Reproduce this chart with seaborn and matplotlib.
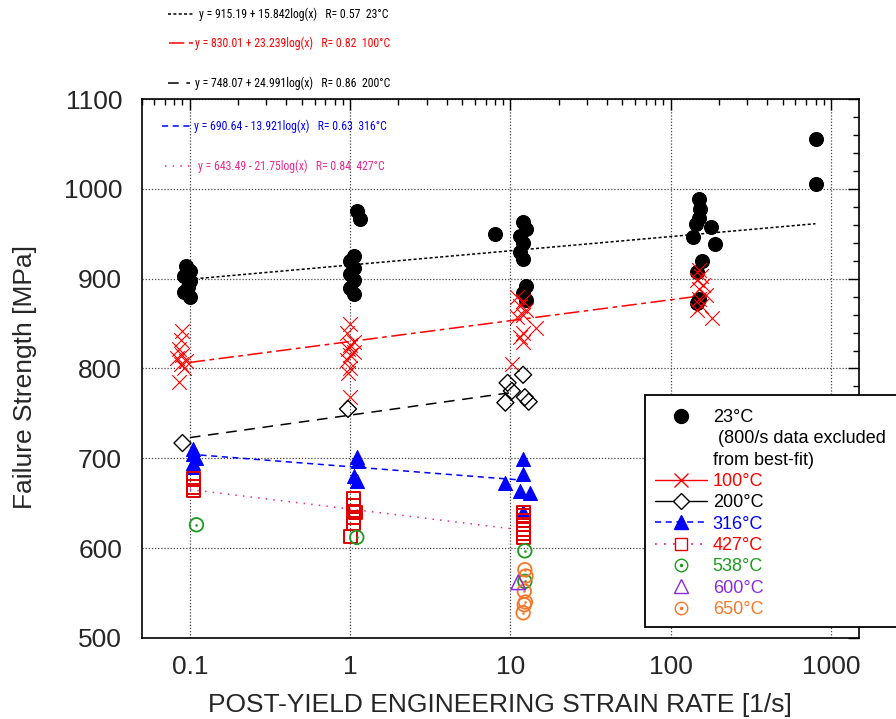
import numpy as np
import pandas as pd
import matplotlib
matplotlib.use("Agg")
import matplotlib.pyplot as plt
import seaborn as sns
from matplotlib.lines import Line2D
from matplotlib.patches import Rectangle
from matplotlib.legend_handler import HandlerTuple

# --- datos ---
rate_23 = [0.095, 0.1, 0.092, 0.1, 0.097, 0.092, 0.1,
           1.1, 1.15, 1.05, 1.0, 1.05, 1.0, 1.05, 1.0, 1.05,
           8.0, 12.0, 12.5, 11.5, 12.0, 11.5, 12.0, 12.5, 12.0, 12.5,
           150, 152, 150, 143, 178, 137, 190, 156, 145, 150, 145,
           800, 800]
str_23 = [914, 908, 903, 897, 891, 885, 880,
          975, 966, 925, 920, 912, 905, 898, 890, 883,
          950, 963, 955, 948, 940, 930, 922, 892, 884, 876,
          989, 978, 968, 961, 957, 946, 939, 920, 907, 877, 873,
          1055, 1005]

rate_100 = [0.09, 0.088, 0.085, 0.09, 0.083, 0.095, 0.088, 0.092, 0.085,
            1.0, 0.95, 1.05, 1.0, 0.97, 1.05, 1.0, 0.95, 1.0, 0.97, 1.0,
            11.0, 12.0, 11.5, 12.5, 12.0, 11.0, 14.5, 12.0, 11.5, 12.0, 10.3,
            150, 155, 145, 160, 150, 165, 150, 155, 145, 180]
str_100 = [842, 832, 822, 815, 812, 808, 805, 800, 785,
           850, 840, 830, 826, 822, 818, 815, 810, 800, 795, 768,
           880, 875, 870, 865, 860, 857, 845, 840, 835, 830, 805,
           910, 903, 898, 893, 888, 882, 877, 870, 865, 856]

rate_200 = [0.09, 0.97, 12.0, 9.6, 10.2, 9.3, 12.3, 13.0]
str_200 = [717, 755, 793, 784, 775, 762, 768, 763]

rate_316 = [0.105, 0.105, 0.11, 0.105, 0.105,
            1.1, 1.12, 1.05, 1.1,
            12.0, 12.0, 9.2, 11.5, 13.2, 12.0]
str_316 = [710, 705, 700, 695, 690,
           702, 697, 680, 675,
           699, 683, 673, 664, 661, 640]

rate_427 = [0.105, 0.105, 0.105,
            1.05, 1.05, 1.08, 1.05, 1.05, 1.0,
            12.0, 12.0, 12.0, 12.0, 12.0, 12.0, 12.0]
str_427 = [677, 668, 664,
           655, 647, 640, 634, 627, 613,
           640, 636, 631, 626, 621, 616, 612]

rate_538 = [0.11, 1.1, 12.3, 12.3]
str_538 = [626, 612, 597, 563]

rate_600 = [11.2]
str_600 = [562]

rate_650 = [12.3, 12.5, 12.2, 12.4, 12.2, 12.0]
str_650 = [576, 569, 552, 540, 537, 528]

# ajustes: y = a + b*log10(x), rango de x de cada recta
fit_names = ["23", "100", "200", "316", "427"]
fit_a = [915.19, 830.01, 748.07, 690.64, 643.49]
fit_b = [15.842, 23.239, 24.991, -13.921, -21.75]
fit_xmin = [0.1, 0.1, 0.1, 0.1, 0.1]
fit_xmax = [800, 150, 10, 12, 10]

x_ticks = [0.1, 1, 10, 100, 1000]
x_ticklabels = ["0.1", "1", "10", "100", "1000"]
y_ticks = [500, 600, 700, 800, 900, 1000, 1100]

RED = "#FF0000"
SQRED = "#E00000"
BLUE = "#0000FF"
PINK = "#F0288C"
GREEN = "#1E9A1E"
PURPLE = "#8A2BE2"
ORANGE = "#F7772A"

fit_colors = ["black", RED, "black", BLUE, PINK]
fit_styles = [(0, (2, 1.5)), (0, (10, 3, 3, 3)), (0, (7, 5)), (0, (4, 3)), (0, (1, 4))]

sns.set_style("white")
plt.rcParams["font.family"] = ["Liberation Sans", "DejaVu Sans"]

fig = plt.figure(figsize=(8.96, 7.19), dpi=100)
ax = fig.add_axes([0.158, 0.1127, 0.801, 0.7496])

# --- rectas de ajuste ---
for i in range(len(fit_names)):
    xs = np.array([fit_xmin[i], fit_xmax[i]])
    ys = fit_a[i] + fit_b[i] * np.log10(xs)
    sns.lineplot(x=xs, y=ys, ax=ax, color=fit_colors[i], linestyle=fit_styles[i],
                 linewidth=1.1, zorder=2)

# --- puntos ---
def pts(rate, strength, **kw):
    df = pd.DataFrame({"rate": rate, "strength": strength})
    sns.scatterplot(data=df, x="rate", y="strength", ax=ax, legend=False, zorder=3, **kw)

pts(rate_23, str_23, marker="o", color="black", edgecolor="black", s=100)
pts(rate_100, str_100, marker="x", color=RED, s=110, linewidth=0.8)
pts(rate_200, str_200, marker="D", color="black", facecolor="none", edgecolor="black", s=75, linewidth=1.0)
pts(rate_316, str_316, marker="^", color=BLUE, edgecolor=BLUE, s=100)
pts(rate_427, str_427, marker="s", color=SQRED, facecolor="none", edgecolor=SQRED, s=90, linewidth=1.4)
for rr, ss, cc in [(rate_538, str_538, GREEN), (rate_650, str_650, ORANGE)]:
    pts(rr, ss, marker="o", color=cc, facecolor="none", edgecolor=cc, s=95, linewidth=1.3)
    pts(rr, ss, marker="o", color=cc, edgecolor=cc, s=3)
pts(rate_600, str_600, marker="^", color=PURPLE, facecolor="none", edgecolor=PURPLE, s=110, linewidth=1.1)

ax.set_xscale("log")
ax.set_xlim(0.05, 1500)
ax.set_ylim(500, 1100)
ax.set_xticks(x_ticks)
ax.set_xticklabels(x_ticklabels)
ax.set_yticks(y_ticks)
ax.yaxis.set_minor_locator(matplotlib.ticker.MultipleLocator(20))
ax.xaxis.set_minor_locator(matplotlib.ticker.LogLocator(base=10, subs=np.arange(2, 10)))
ax.xaxis.set_minor_formatter(matplotlib.ticker.NullFormatter())
ax.tick_params(which="both", direction="in", top=True, right=True, color="black")
ax.tick_params(which="major", length=8, width=1.0, labelsize=19)
ax.tick_params(which="minor", length=4, width=1.0)
ax.tick_params(axis="x", which="major", pad=12)
ax.tick_params(axis="y", which="major", pad=14)
ax.grid(True, which="major", linestyle=(0, (1, 1.5)), color="#444444", linewidth=0.9)
for sp in ax.spines.values():
    sp.set_color("black")
    sp.set_linewidth(1.2)

ax.set_xlabel("POST-YIELD ENGINEERING STRAIN RATE [1/s]", fontsize=19, labelpad=10)
ax.set_ylabel("")
fig.text(0.028, 0.476, "Failure Strength [MPa]", ha="center", va="center", rotation=90, fontsize=19)

# --- ecuaciones arriba ---
eq_texts = ["y = 915.19 + 15.842log(x)   R= 0.57  23°C",
            "y = 830.01 + 23.239log(x)   R= 0.82  100°C",
            "y = 748.07 + 24.991log(x)   R= 0.86  200°C",
            "y = 690.64 - 13.921log(x)   R= 0.63  316°C",
            "y = 643.49 - 21.75log(x)   R= 0.84  427°C"]
eq_ypx = [14, 43, 83, 126, 166]
eq_line_px = [(168, 193), (169, 193), (168, 190), (162, 192), (165, 195)]
eq_text_px = [199, 195, 195, 194, 198]
eq_text_colors = ["black", RED, "black", BLUE, PINK]
eq_family = ["Liberation Sans Narrow", "Roboto Condensed", "Open Sans Condensed",
             "Noto Sans", "Liberation Sans"]
W, H = 896.0, 719.0
for i in range(5):
    yf = 1 - eq_ypx[i] / H
    x0, x1 = eq_line_px[i]
    fig.add_artist(Line2D([x0 / W, x1 / W], [yf, yf], transform=fig.transFigure,
                          color=fit_colors[i], linestyle=fit_styles[i], linewidth=1.1))
    fig.text(eq_text_px[i] / W, yf, eq_texts[i], ha="left", va="center", fontsize=8.5,
             color=eq_text_colors[i], family=eq_family, fontstretch="condensed")

# --- leyenda ---
fig.add_artist(Rectangle((645 / W, 1 - 627 / H), (W - 645) / W + 0.01, (627 - 395) / H,
                         transform=fig.transFigure, facecolor="white", edgecolor="black",
                         linewidth=1.3, zorder=5))
blank = Line2D([], [], linestyle="none")
handles = [
    Line2D([], [], marker="o", color="black", linestyle="none", markersize=10),
    blank, blank,
    Line2D([], [], marker="x", color=RED, linestyle="-", markersize=10, linewidth=1.0),
    Line2D([], [], marker="D", color="black", markerfacecolor="white", linestyle="-", markersize=8, linewidth=1.0),
    Line2D([], [], marker="^", color=BLUE, linestyle=(0, (4, 3)), markersize=10, linewidth=1.1),
    (Line2D([], [], color=PINK, linestyle=(0, (1, 4)), linewidth=1.3),
     Line2D([], [], marker="s", color=SQRED, markerfacecolor="white", linestyle="none", markersize=9)),
    (Line2D([], [], marker="o", color=GREEN, markerfacecolor="none", linestyle="none", markersize=9),
     Line2D([], [], marker="o", color=GREEN, linestyle="none", markersize=1.5)),
    Line2D([], [], marker="^", color=PURPLE, markerfacecolor="none", linestyle="none", markersize=10),
    (Line2D([], [], marker="o", color=ORANGE, markerfacecolor="none", linestyle="none", markersize=9),
     Line2D([], [], marker="o", color=ORANGE, linestyle="none", markersize=1.5)),
]
labels = ["23°C", " (800/s data excluded", "from best-fit)", "100°C", "200°C", "316°C",
          "427°C", "538°C", "600°C", "650°C"]
label_colors = ["black", "black", "black", RED, "black", BLUE, RED, GREEN, PURPLE, ORANGE]
leg = fig.legend(handles, labels, loc="upper left", bbox_to_anchor=(655 / W, 1 - 409 / H),
                 frameon=False, fontsize=13, labelspacing=0.24, handlelength=2.9,
                 handletextpad=0.3, borderpad=0, borderaxespad=0,
                 handler_map={tuple: HandlerTuple(ndivide=1, pad=0)})
leg.set_zorder(6)
for t, c in zip(leg.get_texts(), label_colors):
    t.set_color(c)

fig.savefig("out.png", dpi=100)
